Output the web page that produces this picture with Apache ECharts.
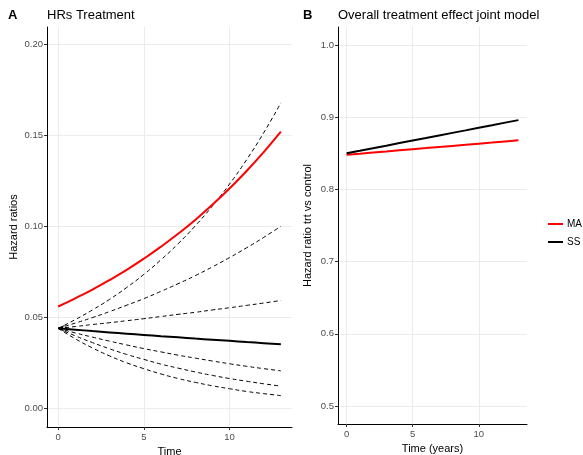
<!DOCTYPE html>
<html><head><meta charset="utf-8">
<script src="https://cdn.jsdelivr.net/npm/echarts@6/dist/echarts.min.js"></script>
<style>html,body{margin:0;padding:0;background:#fff}#c{width:583px;height:455px}</style>
</head><body><div id="c"></div>
<script>
// Time points
var timeA = [0,1,2,3,4,5,6,7,8,9,10,11,12,13];
var timeB = [0,1,2,3,4,5,6,7,8,9,10,11,12,13];
// Panel A: HRs treatment
var hrRed   = [0.0560,0.0605,0.0653,0.0705,0.0761,0.0822,0.0888,0.0959,0.1035,0.1118,0.1207,0.1303,0.1407,0.1519];
var hrBlack = [0.0440,0.0433,0.0425,0.0418,0.0411,0.0404,0.0397,0.0391,0.0384,0.0378,0.0372,0.0365,0.0359,0.0353];
var dash1 = [0.0440,0.0488,0.0541,0.0599,0.0664,0.0736,0.0816,0.0904,0.1002,0.1111,0.1231,0.1365,0.1513,0.1677];
var dash2 = [0.0440,0.0469,0.0499,0.0532,0.0567,0.0603,0.0643,0.0685,0.0729,0.0777,0.0828,0.0882,0.0939,0.1000];
var dash3 = [0.0440,0.0450,0.0461,0.0471,0.0482,0.0493,0.0505,0.0517,0.0528,0.0541,0.0553,0.0566,0.0579,0.0593];
var dash4 = [0.0440,0.0415,0.0392,0.0370,0.0349,0.0329,0.0311,0.0293,0.0277,0.0261,0.0246,0.0232,0.0219,0.0207];
var dash5 = [0.0440,0.0399,0.0362,0.0328,0.0297,0.0270,0.0244,0.0222,0.0201,0.0182,0.0165,0.0150,0.0136,0.0123];
var dash6 = [0.0440,0.0383,0.0333,0.0289,0.0251,0.0219,0.0190,0.0165,0.0144,0.0125,0.0109,0.0094,0.0082,0.0071];
// Panel B: overall treatment effect
var maB = [0.8480,0.8495,0.8511,0.8526,0.8542,0.8557,0.8572,0.8588,0.8603,0.8618,0.8634,0.8649,0.8665,0.8680];
var ssB = [0.8500,0.8535,0.8571,0.8606,0.8642,0.8677,0.8712,0.8748,0.8783,0.8818,0.8854,0.8889,0.8925,0.8960];
// Tick labels
var xTicks = [0,5,10];
var yTicksA = [0,0.05,0.10,0.15,0.20];
var yTicksB = [0.5,0.6,0.7,0.8,0.9,1.0];

function pairs(t, v){ return t.map(function(x,i){ return [x, v[i]]; }); }

var FONT = 'Liberation Sans';
var chart = echarts.init(document.getElementById('c'), null, {renderer:'canvas'});

function xAxis(idx, name, gap){
  return {
    type:'value', gridIndex: idx, min:-0.65, max:13.65,
    name: name, nameLocation:'middle', nameGap: gap,
    nameTextStyle:{color:'#000', fontSize:11, fontFamily:FONT},
    axisLine:{show:true, onZero:false, lineStyle:{color:'#000', width:1}},
    axisTick:{show:true, length:3, lineStyle:{color:'#333'}, customValues: xTicks},
    axisLabel:{color:'#4d4d4d', fontSize:9.5, fontFamily:FONT, margin:5, customValues: xTicks},
    splitLine:{show:true, lineStyle:{color:'#ebebeb', width:1}}
  };
}
function yAxis(idx, name, min, max, ticks, dec, gap){
  return {
    type:'value', gridIndex: idx, min:min, max:max,
    name: name, nameLocation:'middle', nameGap: gap,
    nameTextStyle:{color:'#000', fontSize:11, fontFamily:FONT},
    axisLine:{show:true, onZero:false, lineStyle:{color:'#000', width:1}},
    axisTick:{show:true, length:3, lineStyle:{color:'#333'}, customValues: ticks},
    axisLabel:{color:'#4d4d4d', fontSize:9.5, fontFamily:FONT, margin:4, customValues: ticks,
      formatter:function(v){ return v.toFixed(dec); }},
    splitLine:{show:true, lineStyle:{color:'#ebebeb', width:1}}
  };
}
function dashed(data){
  return {type:'line', xAxisIndex:0, yAxisIndex:0, data:pairs(timeA,data), showSymbol:false, symbol:'none',
    smooth:true, lineStyle:{color:'#000', width:1, type:[4,3]}, z:2, silent:true};
}

var ts = function(bold){ return {fontSize:13, fontWeight: bold ? 'bold' : 'normal', color:'#000', fontFamily:FONT}; };

chart.setOption({
  animation:false,
  textStyle:{fontFamily:FONT},
  title:[
    {text:'A', left:8, top:9, padding:0, textStyle:ts(true)},
    {text:'HRs Treatment', left:47, top:9, padding:0, textStyle:ts(false)},
    {text:'B', left:303, top:9, padding:0, textStyle:ts(true)},
    {text:'Overall treatment effect joint model', left:338, top:9, padding:0, textStyle:ts(false)}
  ],
  legend:{
    data:['MA','SS'], orient:'vertical', left:548, top:219, padding:0, itemWidth:15, itemHeight:10, itemGap:8,
    textStyle:{fontSize:10, color:'#000', fontFamily:FONT, padding:[0,0,0,-1]}, icon:'path://M0,4 L15,4 L15,6 L0,6 Z'
  },
  grid:[
    {left:47, top:27, width:245, height:400, outerBoundsMode:'none', containLabel:false},
    {left:338, top:27, width:189, height:397, outerBoundsMode:'none', containLabel:false}
  ],
  xAxis:[ xAxis(0,'Time',16), xAxis(1,'Time (years)',16) ],
  yAxis:[
    yAxis(0,'Hazard ratios', -0.0101, 0.2093, yTicksA, 2, 28),
    yAxis(1,'Hazard ratio trt vs control', 0.475, 1.025, yTicksB, 1, 25)
  ],
  series:[
    dashed(dash1), dashed(dash2), dashed(dash3), dashed(dash4), dashed(dash5), dashed(dash6),
    {name:'HR red', type:'line', xAxisIndex:0, yAxisIndex:0, data:pairs(timeA,hrRed), showSymbol:false, symbol:'none',
      smooth:true, lineStyle:{color:'#ff0000', width:2}, z:3},
    {name:'HR black', type:'line', xAxisIndex:0, yAxisIndex:0, data:pairs(timeA,hrBlack), showSymbol:false, symbol:'none',
      smooth:true, lineStyle:{color:'#000', width:2}, z:3,
      markPoint:{symbol:'arrow', symbolSize:[5,6], symbolRotate:90, itemStyle:{color:'#000'}, label:{show:false},
        data:[{coord:[timeA[0], hrBlack[0]]}]}},
    {name:'MA', type:'line', xAxisIndex:1, yAxisIndex:1, data:pairs(timeB,maB), showSymbol:false, symbol:'none',
      lineStyle:{color:'#ff0000', width:2}, itemStyle:{color:'#ff0000'}},
    {name:'SS', type:'line', xAxisIndex:1, yAxisIndex:1, data:pairs(timeB,ssB), showSymbol:false, symbol:'none',
      lineStyle:{color:'#000', width:2}, itemStyle:{color:'#000'}}
  ]
});
</script></body></html>
